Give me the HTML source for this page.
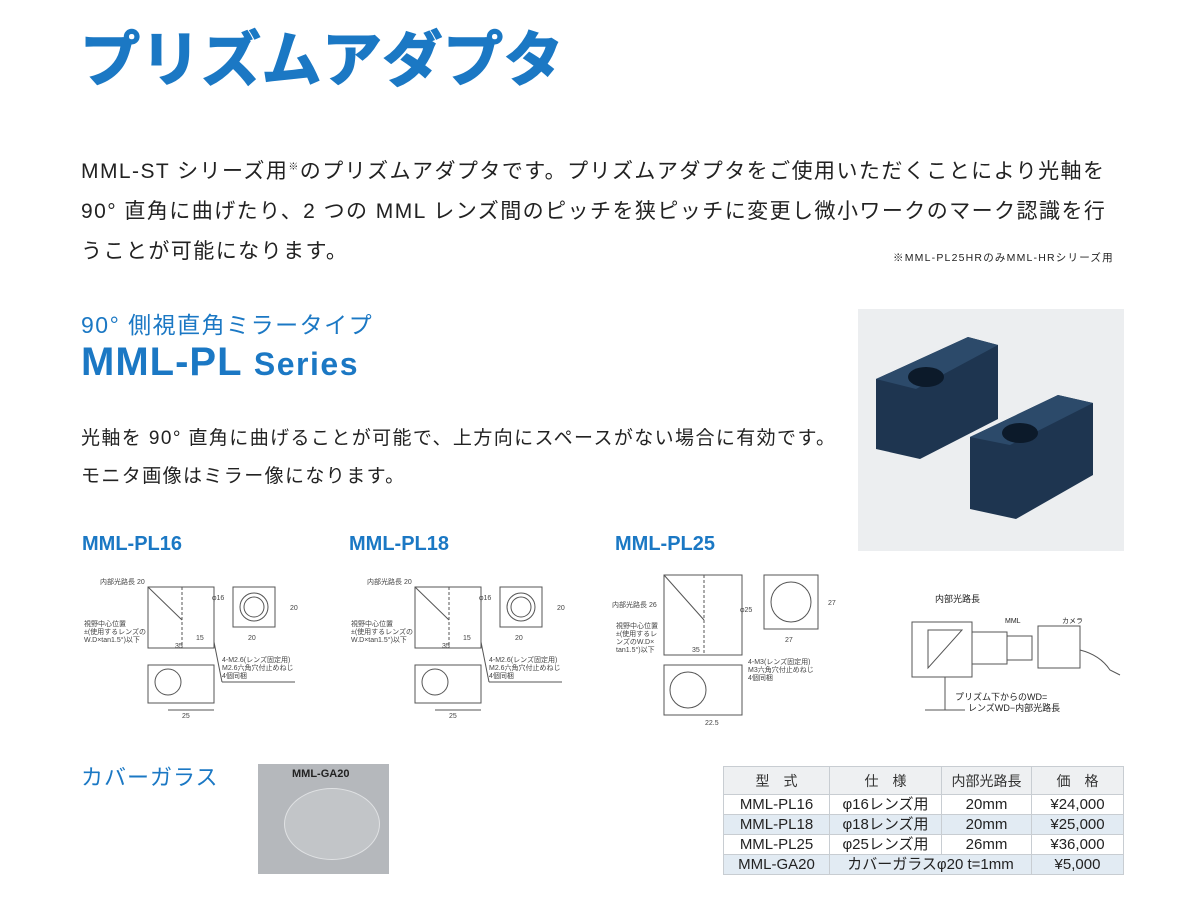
<!DOCTYPE html>
<html><head><meta charset="utf-8"><style>
*{margin:0;padding:0;box-sizing:border-box}
body{width:1200px;height:924px;background:#fff;position:relative;overflow:hidden;font-family:"Liberation Sans","Noto Sans CJK JP",sans-serif;color:#222}
.a{position:absolute;white-space:nowrap}
.blue{color:#1b78c4}
table{border-collapse:collapse;position:absolute;left:723px;top:766px;width:401px;font-size:15px;line-height:18px}
td{border:1px solid #c8cdd2;text-align:center;height:20px;padding:0}
tr.h td{height:28px;background:#eef0f2;color:#333;font-size:14px}
tr.s td{background:#e2ebf3}
svg text{font-family:"Liberation Sans","Noto Sans CJK JP",sans-serif}
</style></head><body>
<div class="a blue" style="left:80px;top:12px;font-size:60px;font-weight:bold;letter-spacing:0.5px;-webkit-text-stroke:1.5px #1b78c4">プリズムアダプタ</div>
<div class="a" style="left:81px;top:148px;font-size:21px;line-height:40px;letter-spacing:1.45px;color:#222">MML-ST シリーズ用<sup style="font-size:10px">※</sup>のプリズムアダプタです。プリズムアダプタをご使用いただくことにより光軸を<br>90° 直角に曲げたり、2 つの MML レンズ間のピッチを狭ピッチに変更し微小ワークのマーク認識を行<br>うことが可能になります。</div>
<div class="a" style="left:893px;top:250px;font-size:10.5px;letter-spacing:1.2px">※MML-PL25HRのみMML-HRシリーズ用</div>
<div class="a blue" style="left:81px;top:306px;font-size:23px;letter-spacing:1.5px">90° 側視直角ミラータイプ</div>
<div class="a blue" style="left:81px;top:340px;font-size:40px;font-weight:bold;letter-spacing:1px">MML-PL <span style="font-size:32px;letter-spacing:1.5px">Series</span></div>
<div class="a" style="left:81px;top:420px;font-size:19px;line-height:38px;letter-spacing:1.4px">光軸を 90° 直角に曲げることが可能で、上方向にスペースがない場合に有効です。<br>モニタ画像はミラー像になります。</div>
<div class="a" style="left:858px;top:309px;width:266px;height:242px;background:#eceef0">
<svg width="266" height="242"><g fill="#1e3550"><polygon points="18,70 110,28 140,36 140,110 62,150 18,140"/><polygon points="112,128 200,86 235,94 235,166 158,210 112,200"/></g>
<g fill="#2c4a6a"><polygon points="18,70 110,28 140,36 58,80"/><polygon points="112,128 200,86 235,94 152,136"/></g>
<ellipse cx="68" cy="68" rx="18" ry="10" fill="#0c1a2a"/><ellipse cx="162" cy="124" rx="18" ry="10" fill="#0c1a2a"/></svg></div>
<div class="a blue" style="left:82px;top:533px;font-size:20px;font-weight:bold">MML-PL16</div>
<div class="a blue" style="left:349px;top:533px;font-size:20px;font-weight:bold">MML-PL18</div>
<div class="a blue" style="left:615px;top:533px;font-size:20px;font-weight:bold">MML-PL25</div>
<svg class="a" style="left:0;top:560px" width="1200" height="180" stroke="#555" fill="none" stroke-width="1" font-size="7">
<g id="d1">
<text x="100" y="24" fill="#444" stroke="none">内部光路長 20</text>
<rect x="148" y="27" width="66" height="61"/><line x1="182" y1="27" x2="182" y2="88" stroke-dasharray="3,2"/><line x1="148" y1="27" x2="182" y2="60"/>
<rect x="233" y="27" width="42" height="40"/><circle cx="254" cy="47" r="14"/><circle cx="254" cy="47" r="10"/>
<text x="212" y="40" fill="#444" stroke="none">φ16</text><text x="248" y="80" fill="#444" stroke="none">20</text><text x="290" y="50" fill="#444" stroke="none">20</text>
<text x="84" y="66" fill="#444" stroke="none">視野中心位置</text><text x="84" y="74" fill="#444" stroke="none">±(使用するレンズの</text><text x="84" y="82" fill="#444" stroke="none">W.D×tan1.5°)以下</text>
<text x="175" y="88" fill="#444" stroke="none">35</text><text x="196" y="80" fill="#444" stroke="none">15</text>
<rect x="148" y="105" width="66" height="38"/><circle cx="168" cy="122" r="13"/>
<text x="182" y="158" fill="#444" stroke="none">25</text><line x1="168" y1="150" x2="214" y2="150"/>
<text x="222" y="102" fill="#444" stroke="none">4-M2.6(レンズ固定用)</text><text x="222" y="110" fill="#444" stroke="none">M2.6六角穴付止めねじ</text><text x="222" y="118" fill="#444" stroke="none">4個同梱</text>
<line x1="214" y1="82" x2="222" y2="122"/><line x1="222" y1="122" x2="295" y2="122"/>
</g>
<use href="#d1" x="267"/>
<g>
<text x="612" y="47" fill="#444" stroke="none">内部光路長 26</text>
<rect x="664" y="15" width="78" height="80"/><line x1="704" y1="15" x2="704" y2="95" stroke-dasharray="3,2"/><line x1="664" y1="15" x2="704" y2="60"/>
<rect x="764" y="15" width="54" height="54"/><circle cx="791" cy="42" r="20"/>
<text x="740" y="52" fill="#444" stroke="none">φ25</text><text x="785" y="82" fill="#444" stroke="none">27</text><text x="828" y="45" fill="#444" stroke="none">27</text>
<text x="616" y="68" fill="#444" stroke="none">視野中心位置</text><text x="616" y="76" fill="#444" stroke="none">±(使用するレ</text><text x="616" y="84" fill="#444" stroke="none">ンズのW.D×</text><text x="616" y="92" fill="#444" stroke="none">tan1.5°)以下</text>
<text x="692" y="92" fill="#444" stroke="none">35</text>
<rect x="664" y="105" width="78" height="50"/><circle cx="688" cy="130" r="18"/>
<text x="705" y="165" fill="#444" stroke="none">22.5</text>
<text x="748" y="104" fill="#444" stroke="none">4-M3(レンズ固定用)</text><text x="748" y="112" fill="#444" stroke="none">M3六角穴付止めねじ</text><text x="748" y="120" fill="#444" stroke="none">4個同梱</text>
</g>
<g>
<text x="935" y="42" fill="#222" stroke="none" font-size="9">内部光路長</text><text x="1005" y="63" fill="#222" stroke="none" font-size="7">MML</text><text x="1062" y="63" fill="#222" stroke="none" font-size="7">カメラ</text>
<rect x="912" y="62" width="60" height="55"/><polygon points="928,70 962,70 928,108"/><rect x="972" y="72" width="35" height="32"/><rect x="1007" y="76" width="25" height="24"/><rect x="1038" y="66" width="42" height="42"/>
<line x1="945" y1="117" x2="945" y2="150"/><line x1="925" y1="150" x2="965" y2="150"/><path d="M1080 90 Q1100 95 1110 110 L1120 115"/>
<text x="955" y="140" fill="#222" stroke="none" font-size="9">プリズム下からのWD=</text><text x="968" y="151" fill="#222" stroke="none" font-size="9">レンズWD−内部光路長</text>
</g>
</svg>
<div class="a blue" style="left:81px;top:760px;font-size:22px;letter-spacing:1px">カバーガラス</div>
<div class="a" style="left:258px;top:764px;width:131px;height:110px;background:#b5b8bc">
<div class="a" style="left:34px;top:4px;font-size:11px;font-weight:bold;color:#222">MML-GA20</div>
<div class="a" style="left:26px;top:24px;width:96px;height:72px;border-radius:50%;border:1px solid #e0e2e4;background:#c2c5c8"></div></div>
<table>
<tr class="h"><td style="width:106px">型　式</td><td style="width:112px">仕　様</td><td style="width:90px">内部光路長</td><td>価　格</td></tr>
<tr><td>MML-PL16</td><td>φ16レンズ用</td><td>20mm</td><td>¥24,000</td></tr>
<tr class="s"><td>MML-PL18</td><td>φ18レンズ用</td><td>20mm</td><td>¥25,000</td></tr>
<tr><td>MML-PL25</td><td>φ25レンズ用</td><td>26mm</td><td>¥36,000</td></tr>
<tr class="s"><td>MML-GA20</td><td colspan="2">カバーガラスφ20 t=1mm</td><td>¥5,000</td></tr>
</table>
</body></html>
